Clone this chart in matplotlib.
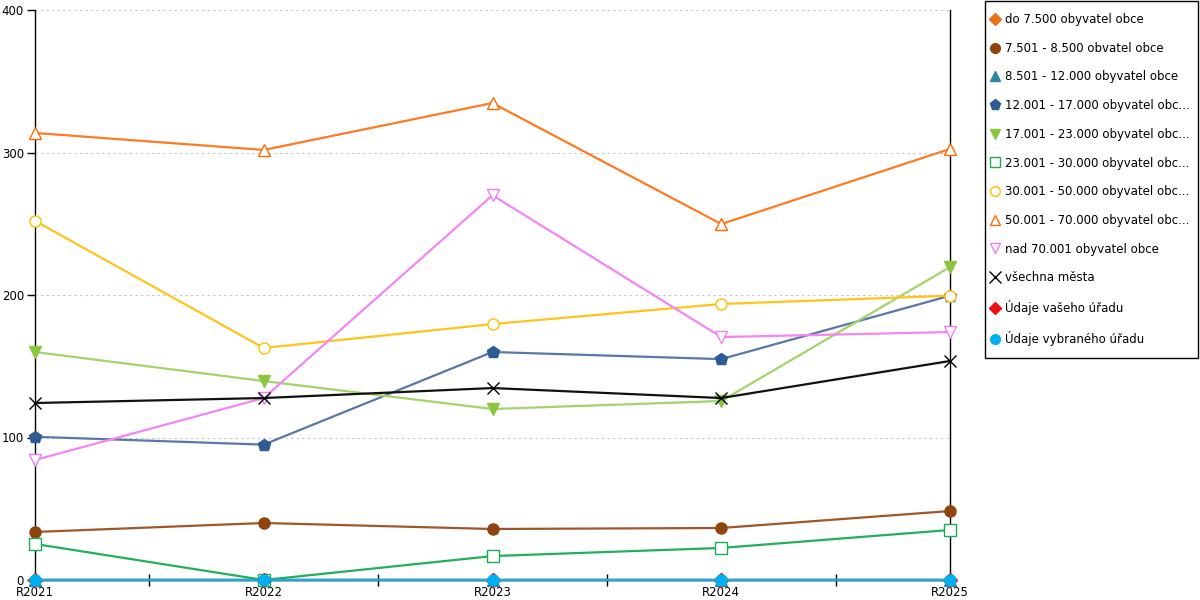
import numpy as np
from matplotlib import pyplot as plt
from matplotlib.lines import Line2D
from matplotlib.patches import Rectangle

years = ['R2021', 'R2022', 'R2023', 'R2024', 'R2025']

labels = ['do 7.500 obyvatel obce',
          '7.501 - 8.500 obvatel obce',
          '8.501 - 12.000 obyvatel obce',
          '12.001 - 17.000 obyvatel obc...',
          '17.001 - 23.000 obyvatel obc...',
          '23.001 - 30.000 obyvatel obc...',
          '30.001 - 50.000 obyvatel obc...',
          '50.001 - 70.000 obyvatel obc...',
          'nad 70.001 obyvatel obce',
          'všechna města',
          'Údaje vašeho úřadu',
          'Údaje vybraného úřadu']

do_7500 = [0, 0, 0, 0, 0]
s_7501_8500 = [33.7, 40, 35.8, 36.5, 48.4]
s_8501_12000 = [0, 0, 0, 0, 0]
s_12001_17000 = [100.5, 95, 160, 155, 199.5]
s_17001_23000 = [160, 139.6, 120, 125.6, 219.6]
s_23001_30000 = [25.3, 0, 16.8, 22.5, 35.1]
s_30001_50000 = [252, 162.8, 179.6, 193.7, 199.5]
s_50001_70000 = [313.7, 301.8, 334.7, 249.8, 302.5]
nad_70001 = [84.2, 127.7, 270, 170.5, 174]
vsechna = [124.2, 127.7, 134.7, 127.7, 153.7]
vaseho = [0, 0, 0, 0, 0]
vybraneho = [0, 0, 0, 0, 0]

series = [do_7500, s_7501_8500, s_8501_12000, s_12001_17000, s_17001_23000,
          s_23001_30000, s_30001_50000, s_50001_70000, nad_70001, vsechna,
          vaseho, vybraneho]

# (line colour, marker colour, marker, filled)
styles = [('#e8711a', '#e8711a', 'D', True),
          ('#a0562a', '#8f440e', 'o', True),
          ('#2e86a0', '#2e86a0', '^', True),
          ('#5878a8', '#2f5b94', 'p', True),
          ('#a2d46a', '#8cc63f', 'v', True),
          ('#22b05a', '#1aab55', 's', False),
          ('#ffc41a', '#ffc000', 'o', False),
          ('#ff7a22', '#ff6a00', '^', False),
          ('#f585f5', '#f27ff2', 'v', False),
          ('#111111', '#000000', 'x', False),
          ('#ee1111', '#ee1111', 'D', True),
          ('#00b0f0', '#00b0f0', 'o', True)]

sizes = {'D': 7, 'o': 8, '^': 8, 'p': 9, 'v': 8, 's': 8, 'x': 9}

plt.rcParams['font.family'] = 'DejaVu Sans'
plt.rcParams['font.size'] = 8.5

fig = plt.figure(figsize=(12, 6), dpi=100)
ax = fig.add_axes([35 / 1200, 20 / 600, 915 / 1200, 570 / 600])

x = np.arange(len(years))
handles = []
for vals, (lc, mc, mk, filled) in zip(series, styles):
    face = mc if filled else 'white'
    if mk == 'x':
        face = mc
    ax.plot(x, vals, color=lc, linewidth=1.6, marker=mk,
            markersize=sizes[mk], markerfacecolor=face,
            markeredgecolor=mc, markeredgewidth=1.0, clip_on=False,
            zorder=3)
    handles.append(Line2D([], [], linestyle='none', marker=mk,
                          markersize=sizes[mk] - 1, markerfacecolor=face,
                          markeredgecolor=mc, markeredgewidth=1.0))

ax.set_xlim(0, 4)
ax.set_ylim(0, 400)
ax.set_xticks(x)
ax.set_xticklabels(years)
ax.set_xticks(x[:-1] + 0.5, minor=True)
ax.tick_params(axis='x', which='major', length=0, pad=4)
ax.tick_params(axis='x', which='minor', length=9, width=1, color='black',
               direction='inout')
ax.set_yticks([0, 100, 200, 300, 400])
ax.tick_params(axis='y', length=6, width=1, pad=2)

ax.grid(axis='y', linestyle=(0, (2, 3)), color='#c4c4c4', linewidth=0.8)
ax.set_axisbelow(True)
ax.spines['top'].set_visible(False)
for s in ['left', 'right', 'bottom']:
    ax.spines[s].set_color('black')
    ax.spines[s].set_linewidth(1)
    ax.spines[s].set_zorder(2)

# legend box drawn by hand, entries placed without frame
fig.patches.append(Rectangle((985 / 1200, 1 - 358 / 600), 213 / 1200,
                             357 / 600, transform=fig.transFigure,
                             facecolor='white', edgecolor='black',
                             linewidth=1, zorder=1))
leg = fig.legend(handles, labels, loc='upper left',
                 bbox_to_anchor=(990 / 1200, 1 - 13 / 600), frameon=False,
                 handlelength=0.8, handletextpad=0.45, labelspacing=1.33,
                 borderpad=0, borderaxespad=0, fontsize=8.5)

fig.savefig('out.png', dpi=100)
